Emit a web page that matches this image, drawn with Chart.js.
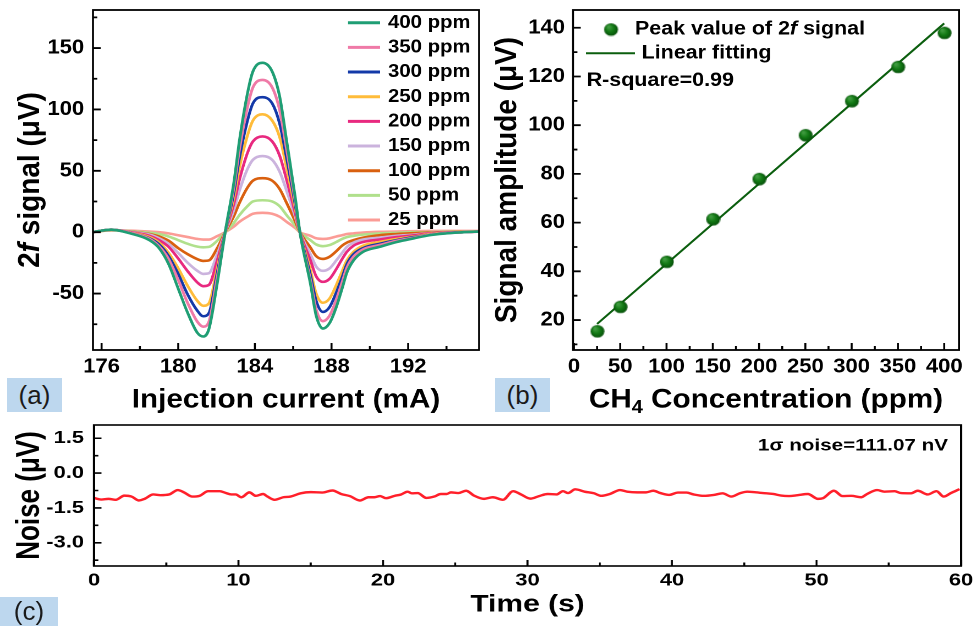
<!DOCTYPE html>
<html>
<head>
<meta charset="utf-8">
<title>2f signal, calibration and noise</title>
<script src="https://cdn.jsdelivr.net/npm/chart.js@4.4.1/dist/chart.umd.min.js"></script>
<style>
  html, body { margin: 0; padding: 0; background: #fff; }
  body { width: 974px; height: 626px; position: relative; overflow: hidden; }
  .panel { position: absolute; transform-origin: 0 0; }
  .tag { position: absolute; background: #bdd7ee; color: #1a1a1a;
         font: 26px 'Liberation Sans', Arial, sans-serif; text-align: center; }
</style>
</head>
<body>
<div class="panel" style="left:0;top:0;transform:scaleX(1.1)"><canvas id="chartA"></canvas></div>
<div class="panel" style="left:487px;top:0;transform:scaleX(1.1)"><canvas id="chartB"></canvas></div>
<div class="panel" style="left:0;top:418px;transform:scaleX(1.25)"><canvas id="chartC"></canvas></div>
<div class="tag" style="left:7px;top:378px;width:55px;height:34px;line-height:34px">(a)</div>
<div class="tag" style="left:495px;top:378px;width:55px;height:34px;line-height:34px">(b)</div>
<div class="tag" style="left:0;top:597px;width:58px;height:29px;line-height:29px">(c)</div>

<script>
// ---- data ----

// (a) 2f signal vs injection current (mA), one array per concentration
const currents = [175.5, 176.5, 177.5, 178.5, 179.0, 179.5, 180.0, 180.5, 181.0, 181.3, 181.6, 182.0, 182.45, 182.9, 183.2, 183.6, 183.9, 184.4, 184.9, 185.3, 185.65, 186.1, 186.35, 186.9, 187.2, 187.55, 187.9, 188.25, 188.55, 188.8, 189.15, 189.65, 190.5, 191.4, 192.3, 193.1, 194.0, 194.9, 195.7];
const sig400 = [0, 2, -1, -6.5, -13, -26, -46, -66, -82, -85, -79, -45, 0, 40, 75, 112, 131, 138, 131, 110, 75, 29, 0, -42, -68, -78.5, -74, -61, -46, -33, -23, -16, -12, -8, -5, -2.5, -1, 0, 0.5];
const sig350 = [0, 2, -0.5, -5.5, -11.5, -22, -39, -58, -73, -77, -73, -40, 0, 36, 68, 101, 118, 124, 118, 99, 68, 26, 0, -39, -63, -72.5, -68, -55, -41, -29, -20, -14, -10.5, -7, -4.5, -2, -0.8, 0, 0.5];
const sig300 = [0, 2, -0.5, -5, -10, -19.5, -34, -51, -64, -68.5, -66, -36, 0, 32, 61, 90, 105, 110, 105, 88, 61, 23, 0, -35, -56, -65, -61, -49, -37, -26, -18, -13, -9.5, -6.5, -4, -2, -0.7, 0, 0.5];
const sig250 = [0, 2, -0.3, -4, -8.5, -17, -29.5, -44, -56, -60, -58, -32, 0, 28, 53, 78, 91, 96, 91, 77, 53, 20, 0, -31, -50, -57.5, -54, -43, -32, -23, -16, -11, -8, -5.5, -3.5, -1.5, -0.5, 0, 0.5];
const sig200 = [0, 2, 0, -3, -6.5, -12, -21.5, -32, -41, -44, -43, -25, 0, 23, 43, 64, 74, 78, 74, 62, 43, 16, 0, -23, -36, -40.5, -38, -30, -22, -16, -11, -8, -6, -4, -2.5, -1, -0.3, 0, 0.5];
const sig150 = [0, 2, 0.3, -2, -5, -9.5, -17, -25, -31.5, -34, -33.5, -19.5, 0, 18, 34, 51, 59, 62, 59, 49, 34, 13, 0, -18, -28, -31.5, -29.5, -23, -17, -12, -8.5, -6, -4.5, -3, -2, -0.8, -0.2, 0, 0.5];
const sig100 = [0, 1.8, 0.5, -1.5, -3.5, -7, -13, -18, -22, -23.4, -23, -14, 0, 13, 24, 36, 42, 44, 42, 35, 24, 9, 0, -12.5, -19.5, -21.8, -20, -15.5, -11, -8.5, -6.5, -4.5, -2.5, -1.5, -0.8, -0.3, 0, 0.3, 0.5];
const sig50 = [0, 1.5, 0.8, -0.5, -1.5, -3.5, -6.5, -9.5, -11.8, -12.3, -12, -7.5, 0, 7.5, 14, 21, 25, 26, 25, 21, 14, 5.5, 0, -6.5, -10, -11.4, -10.5, -8, -5.5, -4, -3, -2, -1, -0.5, 0, 0, 0.3, 0.5, 0.5];
const sig25 = [0, 1.5, 1.2, 0.5, 0, -1, -2.5, -4, -5.5, -6, -6, -3.5, 0, 4.5, 8.5, 12.5, 15, 15.8, 15, 12.5, 8.5, 3.5, 0, -3, -5, -5.5, -5, -3.5, -2.5, -1.5, -1, -0.3, 0.3, 0.5, 0.8, 1, 1, 1, 1];
const seriesLabels = ['400 ppm', '350 ppm', '300 ppm', '250 ppm', '200 ppm', '150 ppm', '100 ppm', '50 ppm', '25 ppm'];
const xTicksA = [176, 180, 184, 188, 192];
const xMinorA = [178, 182, 186, 190, 194];
const yTicksA = [-50, 0, 50, 100, 150];
const yMinorA = [-75, -25, 25, 75, 125, 175];

// (b) peak amplitude vs CH4 concentration, plus the fitted line
const conc = [25, 50, 100, 150, 200, 250, 300, 350, 400];
const peakAmp = [15.5, 25.5, 44, 61.5, 78, 96, 110, 124, 138];
const fitConc = [25, 400];
const fitAmp = [18.4, 141.8];
const xTicksB = [0, 50, 100, 150, 200, 250, 300, 350, 400];
const xMinorB = [25, 75, 125, 175, 225, 275, 325, 375];
const yTicksB = [20, 40, 60, 80, 100, 120, 140];
const yMinorB = [10, 30, 50, 70, 90, 110, 130];

// (c) noise over one minute
const noiseTime = [0, 0.5, 1.0, 1.5, 2.1, 2.6, 3.1, 3.5, 4.1, 4.6, 5.2, 5.8, 6.25, 6.8, 7.3, 7.9, 8.7, 9.1, 9.5, 9.8, 10.2, 10.75, 11.2, 11.7, 12.0, 12.5, 13.1, 13.6, 14.3, 15.0, 15.8, 16.5, 17.1, 17.7, 18.4, 19.0, 19.4, 19.8, 20.2, 20.8, 21.25, 21.7, 22.0, 22.4, 23.0, 23.55, 24.0, 24.4, 24.7, 25.2, 25.75, 26.3, 27.0, 27.6, 28.3, 29.0, 29.55, 30.2, 30.8, 31.4, 32.0, 32.45, 32.8, 33.3, 33.95, 34.6, 35.1, 35.7, 36.4, 36.9, 37.6, 38.2, 38.7, 39.2, 39.8, 40.4, 41.0, 41.5, 42.2, 42.9, 43.5, 44.1, 44.7, 45.2, 45.8, 46.3, 47.0, 47.55, 48.1, 48.7, 49.4, 50.1, 50.45, 51.2, 51.8, 52.4, 53.1, 53.5, 54.2, 54.7, 55.4, 55.85, 56.55, 57.0, 57.7, 58.3, 58.8, 59.3, 59.9];
const noiseVal = [-1.07, -1.14, -1.11, -1.15, -0.97, -1.01, -1.18, -1.11, -0.92, -0.95, -0.92, -0.73, -0.84, -1.01, -0.98, -0.78, -0.78, -0.85, -0.92, -0.92, -1.04, -0.83, -0.98, -0.90, -1.01, -1.15, -1.04, -1.01, -0.87, -0.82, -0.84, -0.75, -0.90, -0.99, -1.18, -1.04, -1.04, -0.99, -1.08, -0.98, -0.92, -0.80, -0.87, -0.86, -1.07, -1.01, -0.90, -0.90, -0.83, -0.86, -0.76, -0.97, -1.11, -1.04, -1.15, -0.78, -0.92, -1.10, -0.99, -0.90, -0.92, -0.78, -0.86, -0.70, -0.80, -0.87, -0.98, -0.90, -0.73, -0.80, -0.83, -0.83, -0.76, -0.86, -0.94, -0.84, -0.84, -0.92, -0.98, -0.94, -0.87, -1.01, -0.87, -0.80, -0.83, -0.86, -0.90, -0.97, -0.99, -0.95, -0.90, -1.11, -1.08, -0.76, -0.99, -0.98, -1.04, -0.90, -0.73, -0.80, -0.78, -0.86, -0.87, -0.76, -0.92, -0.78, -1.01, -0.86, -0.69];
const xTicksC = [0, 10, 20, 30, 40, 50, 60];
const xMinorC = [5, 15, 25, 35, 45, 55];
const yTicksC = [-3.0, -1.5, 0.0, 1.5];
const yMinorC = [-3.75, -2.25, -0.75, 0.75];

// ---- styling ----
const FONT = "'Liberation Sans', Arial, sans-serif";
const lineColors = ['#1f9e74', '#ef7aa7', '#1339a8', '#ffbc3a', '#e8297f', '#cbb3dd', '#d9600f', '#b0e08c', '#fb9c96'];
Chart.defaults.color = '#000';
Chart.defaults.font.family = FONT;

const bold = size => `bold ${size}px ${FONT}`;
const boldItalic = size => `italic bold ${size}px ${FONT}`;

// shaded green ball used for the peak markers
function makeBall(r) {
  const c = document.createElement('canvas');
  c.width = c.height = r * 2 + 2;
  const g = c.getContext('2d');
  const grad = g.createRadialGradient(r * 0.8, r * 0.7, 1, r + 1, r + 1, r);
  grad.addColorStop(0, '#3f9a3f');
  grad.addColorStop(0.5, '#137a15');
  grad.addColorStop(1, '#07500a');
  g.fillStyle = grad;
  g.beginPath(); g.arc(r + 1, r + 1, r, 0, Math.PI * 2); g.fill();
  return c;
}
const ball = makeBall(6.3);

// text made of pieces with their own fonts (italic f, subscript 4 ...)
function drawRun(ctx, parts, x, y, align) {
  let total = 0;
  parts.forEach(p => { ctx.font = p[1]; total += ctx.measureText(p[0]).width; });
  let cx = align === 'center' ? x - total / 2 : (align === 'right' ? x - total : x);
  parts.forEach(p => {
    ctx.font = p[1];
    ctx.fillText(p[0], cx, y + (p[2] || 0));
    cx += ctx.measureText(p[0]).width;
  });
}

// frame, inward tick marks and axis titles in the Origin look
const boxPlugin = {
  id: 'box',
  afterDraw(chart, args, o) {
    const { ctx, chartArea: a } = chart;
    const xs = chart.scales.x, ys = chart.scales.y;
    ctx.save();
    ctx.strokeStyle = '#000';
    ctx.lineWidth = o.lineWidth;
    ctx.beginPath();
    const mark = (scale, values, len) => values.forEach(v => {
      const p = scale.getPixelForValue(v);
      if (scale.isHorizontal()) { ctx.moveTo(p, a.bottom); ctx.lineTo(p, a.bottom - len); }
      else { ctx.moveTo(a.left, p); ctx.lineTo(a.left + len, p); }
    });
    mark(xs, o.xMajor, o.major); mark(xs, o.xMinor, o.minor);
    mark(ys, o.yMajor, o.major); mark(ys, o.yMinor, o.minor);
    ctx.stroke();
    ctx.strokeRect(a.left, a.top, a.width, a.height);

    ctx.fillStyle = '#000';
    ctx.textBaseline = 'middle';
    drawRun(ctx, o.xTitle, (a.left + a.right) / 2, o.xTitleY, 'center');
    ctx.translate(o.yTitleX, (a.top + a.bottom) / 2);
    ctx.rotate(-Math.PI / 2);
    drawRun(ctx, o.yTitle, 0, 0, 'center');
    ctx.restore();
    if (o.extra) o.extra(chart);
  }
};

// fix the axis boxes so the plot areas land where the figure has them
const fixY = w => s => { s.width = w; s.paddingTop = 0; s.paddingBottom = 0; };
const fixX = h => s => { s.height = h; s.paddingLeft = 0; s.paddingRight = 0; };
const useTicks = vals => s => { s.ticks = vals.map(v => ({ value: v })); };

function makeChart(id, w, h, cfg) {
  const canvas = document.getElementById(id);
  canvas.width = w; canvas.height = h;
  cfg.options.responsive = false;
  cfg.options.animation = false;
  cfg.options.devicePixelRatio = 2;
  cfg.options.layout = Object.assign({ autoPadding: false }, cfg.options.layout);
  cfg.plugins = [boxPlugin];
  return new Chart(canvas, cfg);
}

// ---- (a) ----
const seriesA = [sig400, sig350, sig300, sig250, sig200, sig150, sig100, sig50, sig25];
makeChart('chartA', 446, 420, {
  type: 'line',
  data: {
    datasets: seriesA.map((ys, i) => ({
      label: seriesLabels[i],
      data: currents.map((x, j) => ({ x: x, y: ys[j] })),
      borderColor: lineColors[i],
      borderWidth: 2.6,
      pointRadius: 0,
      cubicInterpolationMode: 'monotone'
    }))
  },
  options: {
    layout: { padding: { left: 0, top: 10, right: 10.5, bottom: 0 } },
    plugins: {
      legend: { display: false }, tooltip: { enabled: false },
      box: {
        lineWidth: 1.8, major: 7, minor: 4,
        xMajor: xTicksA, xMinor: xMinorA, yMajor: yTicksA, yMinor: yMinorA,
        xTitle: [['Injection current (mA)', bold(27)]], xTitleY: 400,
        yTitle: [['2', bold(28)], ['f', boldItalic(28)], [' signal (μV)', bold(28)]], yTitleX: 28,
        extra(chart) {
          const ctx = chart.ctx;
          ctx.save();
          ctx.textBaseline = 'middle';
          ctx.font = bold(18.5);
          chart.data.datasets.forEach((ds, i) => {
            const y = 22.7 + 24.67 * i;
            ctx.strokeStyle = ds.borderColor;
            ctx.lineWidth = 3;
            ctx.beginPath(); ctx.moveTo(316.4, y); ctx.lineTo(345.5, y); ctx.stroke();
            ctx.fillStyle = '#000';
            ctx.fillText(ds.label, 352.7, y);
          });
          ctx.restore();
        }
      }
    },
    scales: {
      x: {
        type: 'linear', min: 175.55, max: 195.7,
        grid: { display: false, drawTicks: false }, border: { display: false },
        afterBuildTicks: useTicks(xTicksA), afterFit: fixX(70),
        ticks: { font: { size: 20, weight: 'bold' }, padding: 5, maxRotation: 0 }
      },
      y: {
        min: -96, max: 181,
        grid: { display: false, drawTicks: false }, border: { display: false },
        afterBuildTicks: useTicks(yTicksA), afterFit: fixY(84.5),
        ticks: { font: { size: 20, weight: 'bold' }, padding: 8 }
      }
    }
  }
});

// ---- (b) ----
makeChart('chartB', 443, 420, {
  type: 'scatter',
  data: {
    datasets: [
      {
        label: 'Peak value of 2f signal',
        data: conc.map((x, i) => ({ x: x, y: peakAmp[i] })),
        pointStyle: ball, pointRadius: 6
      },
      {
        label: 'Linear fitting',
        data: fitConc.map((x, i) => ({ x: x, y: fitAmp[i] })),
        showLine: true, pointRadius: 0, borderColor: '#0b5e0e', borderWidth: 2
      }
    ]
  },
  options: {
    layout: { padding: { left: 0, top: 10, right: 13.9, bottom: 0 } },
    plugins: {
      legend: { display: false }, tooltip: { enabled: false },
      box: {
        lineWidth: 1.8, major: 7, minor: 4,
        xMajor: xTicksB, xMinor: xMinorB, yMajor: yTicksB, yMinor: yMinorB,
        xTitle: [['CH', bold(27)], ['4', bold(18), 8], [' Concentration (ppm)', bold(27)]], xTitleY: 400,
        yTitle: [['Signal amplitude (μV)', bold(28)]], yTitleX: 19,
        extra(chart) {
          const ctx = chart.ctx;
          ctx.save();
          ctx.textBaseline = 'middle';
          ctx.drawImage(ball, 112.5 - ball.width / 2, 29.3 - ball.height / 2);
          ctx.strokeStyle = '#0b5e0e'; ctx.lineWidth = 2;
          ctx.beginPath(); ctx.moveTo(90, 53.3); ctx.lineTo(134.5, 53.3); ctx.stroke();
          ctx.fillStyle = '#000';
          drawRun(ctx, [['Peak value of 2', bold(19.5)], ['f', boldItalic(19.5)], [' signal', bold(19.5)]], 134.5, 29.3, 'left');
          drawRun(ctx, [['Linear fitting', bold(19.5)]], 140.6, 53.3, 'left');
          drawRun(ctx, [['R-square=0.99', bold(19.5)]], 90.6, 80.7, 'left');
          ctx.restore();
        }
      }
    },
    scales: {
      x: {
        type: 'linear', min: -1, max: 416,
        grid: { display: false, drawTicks: false }, border: { display: false },
        afterBuildTicks: useTicks(xTicksB), afterFit: fixX(70),
        ticks: { font: { size: 20, weight: 'bold' }, padding: 5, maxRotation: 0 }
      },
      y: {
        min: 7.7, max: 147.3,
        grid: { display: false, drawTicks: false }, border: { display: false },
        afterBuildTicks: useTicks(yTicksB), afterFit: fixY(78.2),
        ticks: { font: { size: 20, weight: 'bold' }, padding: 7.3 }
      }
    }
  }
});

// ---- (c) ----
makeChart('chartC', 780, 208, {
  type: 'line',
  data: {
    datasets: [{
      label: 'Noise',
      data: noiseTime.map((t, i) => ({ x: t, y: noiseVal[i] })),
      borderColor: '#ff1f2a', borderWidth: 2.4, pointRadius: 0,
      cubicInterpolationMode: 'monotone'
    }]
  },
  options: {
    layout: { padding: { left: 0, top: 7, right: 11.2, bottom: 0 } },
    plugins: {
      legend: { display: false }, tooltip: { enabled: false },
      box: {
        lineWidth: 1.6, major: 6, minor: 3.5,
        xMajor: xTicksC, xMinor: xMinorC, yMajor: yTicksC, yMinor: yMinorC,
        xTitle: [['Time (s)', bold(24)]], xTitleY: 187,
        yTitle: [['Noise (μV)', bold(26)]], yTitleX: 24,
        extra(chart) {
          const ctx = chart.ctx;
          ctx.save();
          ctx.textBaseline = 'middle';
          ctx.fillStyle = '#000';
          drawRun(ctx, [['1σ noise=111.07 nV', bold(16.5)]], 758.4, 28, 'right');
          ctx.restore();
        }
      }
    },
    scales: {
      x: {
        type: 'linear', min: 0, max: 60,
        grid: { display: false, drawTicks: false }, border: { display: false },
        afterBuildTicks: useTicks(xTicksC), afterFit: fixX(60),
        ticks: { font: { size: 17.5, weight: 'bold' }, padding: 4, maxRotation: 0 }
      },
      y: {
        min: -4.0, max: 2.07,
        grid: { display: false, drawTicks: false }, border: { display: false },
        afterBuildTicks: useTicks(yTicksC), afterFit: fixY(75.2),
        ticks: { font: { size: 17.5, weight: 'bold' }, padding: 8, callback: v => v.toFixed(1) }
      }
    }
  }
});
</script>
</body>
</html>
